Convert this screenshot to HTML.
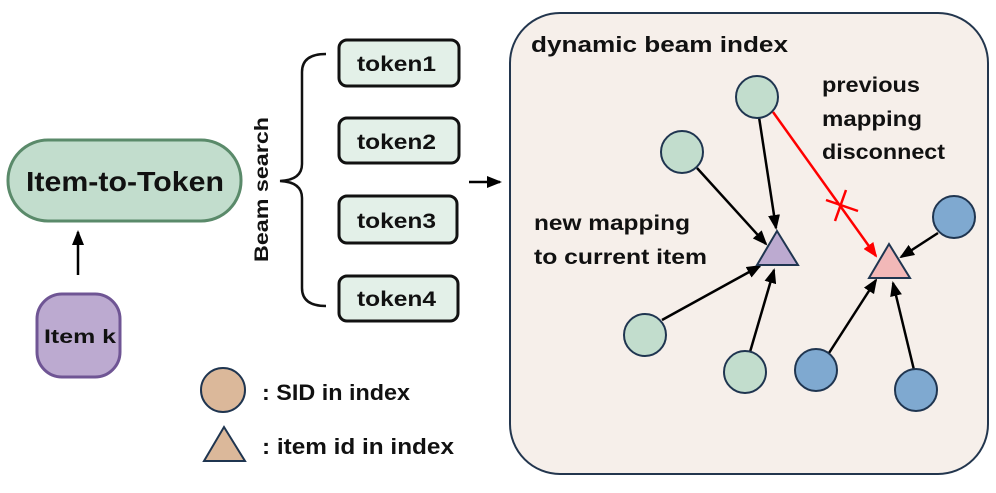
<!DOCTYPE html>
<html><head><meta charset="utf-8"><style>
body{margin:0;background:#fff;}
svg text{font-family:"Liberation Sans",sans-serif;font-weight:bold;fill:#111;}
</style></head><body>
<svg width="996" height="488" viewBox="0 0 996 488" xmlns="http://www.w3.org/2000/svg">
<defs>
<marker id="a" markerWidth="15" markerHeight="12" refX="13" refY="6" orient="auto" markerUnits="userSpaceOnUse"><path d="M0,0 L15,6 L0,12 z" fill="#000"/></marker>
<marker id="r" markerWidth="15" markerHeight="12" refX="13" refY="6" orient="auto" markerUnits="userSpaceOnUse"><path d="M0,0 L15,6 L0,12 z" fill="#f00"/></marker>
</defs>
<rect x="8" y="140" width="233" height="81" rx="40" fill="#c2ddcd" stroke="#5a8a6a" stroke-width="3"/>
<text x="26" y="191" font-size="28" textLength="198" lengthAdjust="spacingAndGlyphs">Item-to-Token</text>
<line x1="78" y1="275" x2="78" y2="232" stroke="#000" stroke-width="2.5" marker-end="url(#a)"/>
<rect x="37" y="294" width="83" height="83" rx="25" fill="#bcaad0" stroke="#6f5594" stroke-width="3"/>
<text x="44" y="343" font-size="19" textLength="72" lengthAdjust="spacingAndGlyphs">Item k</text>
<text transform="translate(268,262) rotate(-90)" font-size="19" textLength="145" lengthAdjust="spacingAndGlyphs">Beam search</text>
<path d="M326,54 Q302,54 302,72 L302,164 Q302,180 280,181 Q302,182 302,198 L302,288 Q302,306 326,306" fill="none" stroke="#111" stroke-width="2.5"/>
<g fill="#e3f0e8" stroke="#111" stroke-width="3">
<rect x="339" y="40" width="120" height="46" rx="8"/>
<rect x="339" y="118" width="120" height="45" rx="8"/>
<rect x="339" y="196" width="118" height="47" rx="8"/>
<rect x="339" y="276" width="119" height="45" rx="8"/>
</g>
<g font-size="21">
<text x="357" y="71" textLength="79" lengthAdjust="spacingAndGlyphs">token1</text><text x="357" y="149" textLength="79" lengthAdjust="spacingAndGlyphs">token2</text><text x="357" y="228" textLength="79" lengthAdjust="spacingAndGlyphs">token3</text><text x="357" y="306" textLength="79" lengthAdjust="spacingAndGlyphs">token4</text>
</g>
<line x1="469" y1="182" x2="500" y2="182" stroke="#000" stroke-width="2.5" marker-end="url(#a)"/>
<circle cx="223" cy="390" r="22" fill="#dbb89a" stroke="#1f3550" stroke-width="2"/>
<polygon points="204,461 224,427 245,461" fill="#dbb89a" stroke="#1f3550" stroke-width="2"/>
<text x="262" y="400" font-size="22" textLength="148" lengthAdjust="spacingAndGlyphs">: SID in index</text>
<text x="262" y="454" font-size="22" textLength="192" lengthAdjust="spacingAndGlyphs">: item id in index</text>
<rect x="510" y="13" width="478" height="461" rx="50" fill="#f6efea" stroke="#23364e" stroke-width="2"/>
<text x="531" y="52" font-size="22" textLength="257" lengthAdjust="spacingAndGlyphs">dynamic beam index</text>
<g font-size="21">
<text x="822" y="92" textLength="98" lengthAdjust="spacingAndGlyphs">previous</text>
<text x="822" y="126" textLength="100" lengthAdjust="spacingAndGlyphs">mapping</text>
<text x="822" y="159" textLength="123" lengthAdjust="spacingAndGlyphs">disconnect</text>
<text x="534" y="230" textLength="156" lengthAdjust="spacingAndGlyphs">new mapping</text>
<text x="534" y="264" textLength="173" lengthAdjust="spacingAndGlyphs">to current item</text></g>
<g stroke="#000" stroke-width="2.5">
<line x1="759" y1="117" x2="776" y2="228" marker-end="url(#a)"/>
<line x1="697" y1="168" x2="766" y2="244" marker-end="url(#a)"/>
<line x1="662" y1="320" x2="760" y2="266" marker-end="url(#a)"/>
<line x1="750" y1="352" x2="774" y2="270" marker-end="url(#a)"/>
<line x1="938" y1="233" x2="901" y2="257" marker-end="url(#a)"/>
<line x1="829" y1="353" x2="876" y2="280" marker-end="url(#a)"/>
<line x1="914" y1="370" x2="893" y2="283" marker-end="url(#a)"/>
</g>
<line x1="773" y1="112" x2="876" y2="256" stroke="#f00" stroke-width="2.5" marker-end="url(#r)"/>
<line x1="826" y1="200" x2="858" y2="211" stroke="#f00" stroke-width="2.5"/>
<line x1="846" y1="190" x2="835" y2="221" stroke="#f00" stroke-width="2.5"/>
<g fill="#c2ddcd" stroke="#1f3550" stroke-width="2">
<circle cx="757" cy="97" r="21"/><circle cx="682" cy="152" r="21"/><circle cx="645" cy="335" r="21"/><circle cx="745" cy="372" r="21"/>
</g>
<g fill="#7fa9d0" stroke="#1f3550" stroke-width="2">
<circle cx="954" cy="217" r="21"/><circle cx="816" cy="370" r="21"/><circle cx="916" cy="390" r="21"/>
</g>
<polygon points="757,265 777,231 798,265" fill="#bcaad0" stroke="#1f3550" stroke-width="2"/>
<polygon points="869,278 889,244 910,278" fill="#f2b8b8" stroke="#1f3550" stroke-width="2"/>
</svg>
</body></html>
